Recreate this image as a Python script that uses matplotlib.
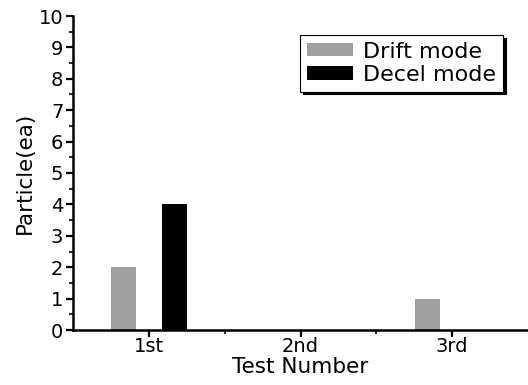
import matplotlib
matplotlib.use("Agg")
import matplotlib.pyplot as plt
import numpy as np
from matplotlib.ticker import MultipleLocator, FixedLocator

categories = ["1st", "2nd", "3rd"]
drift = [2, 0, 1]
decel = [4, 0, 0]

plt.rcParams['font.family'] = ['DejaVu Sans']

fig = plt.figure(figsize=(5.28, 3.85), dpi=100)
ax = fig.add_axes([73/528, 55/385, 455/528, 314/385])

x = np.arange(1, len(categories) + 1)
w = 0.165
ax.bar(x - 0.165, drift, w, color='#a0a0a0', label='Drift mode')
ax.bar(x + 0.168, decel, w, color='black', label='Decel mode')

ax.set_xlim(0.5, 3.5)
ax.set_ylim(0, 10)
ax.set_xticks(x)
ax.set_xticklabels(categories)
ax.xaxis.set_minor_locator(FixedLocator([1.5, 2.5]))
ax.yaxis.set_major_locator(MultipleLocator(1))
ax.yaxis.set_minor_locator(MultipleLocator(0.5))

for s in ['top', 'right']:
    ax.spines[s].set_visible(False)
for s in ['left', 'bottom']:
    ax.spines[s].set_linewidth(1.8)

ax.tick_params(which='major', direction='out', length=5, width=1.6, labelsize=14, pad=2)
ax.tick_params(axis='x', which='major', pad=0)
ax.tick_params(which='minor', direction='out', length=3, width=1.2)

ax.set_ylabel('Particle(ea)', fontsize=15.5, labelpad=3)
ax.set_xlabel('Test Number', fontsize=15.5, labelpad=1)

leg = ax.legend(loc='upper right', bbox_to_anchor=(0.945, 0.94), fontsize=16,
                frameon=True, fancybox=False, shadow={'color': 'black', 'alpha': 1},
                edgecolor='black', handlelength=2.1, handleheight=0.55,
                borderpad=0.3, labelspacing=0.15, handletextpad=0.45, borderaxespad=0)
leg.get_frame().set_linewidth(0.8)

fig.savefig('out.png', dpi=100)
